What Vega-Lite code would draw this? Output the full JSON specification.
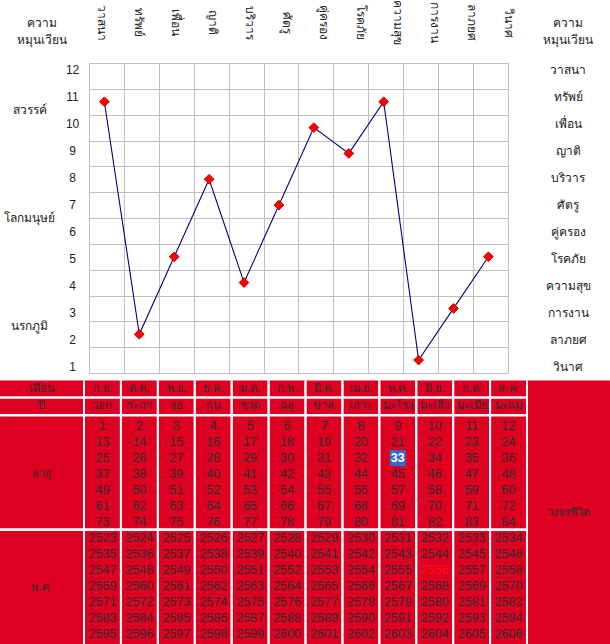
{
  "$schema": "https://vega.github.io/schema/vega-lite/v6.json",
  "width": 419,
  "height": 310,
  "autosize": {"type": "none"},
  "padding": {"left": 89, "top": 63, "right": 102, "bottom": 271},
  "background": "white",
  "config": {"view": {"stroke": null}, "font": "Tahoma, DejaVu Sans, sans-serif", "text": {"font": "Tahoma, Liberation Sans, DejaVu Sans, sans-serif"}},
  "datasets": {
    "cats": [
      {"i": 1, "name": "วาสนา", "k": 12, "v": 11},
      {"i": 2, "name": "ทรัพย์", "k": 11, "v": 2},
      {"i": 3, "name": "เพื่อน", "k": 10, "v": 5},
      {"i": 4, "name": "ญาติ", "k": 9, "v": 8},
      {"i": 5, "name": "บริวาร", "k": 8, "v": 4},
      {"i": 6, "name": "ศัตรู", "k": 7, "v": 7},
      {"i": 7, "name": "คู่ครอง", "k": 6, "v": 10},
      {"i": 8, "name": "โรคภัย", "k": 5, "v": 9},
      {"i": 9, "name": "ความสุข", "k": 4, "v": 11},
      {"i": 10, "name": "การงาน", "k": 3, "v": 1},
      {"i": 11, "name": "ลาภยศ", "k": 2, "v": 3},
      {"i": 12, "name": "วินาศ", "k": 1, "v": 5}
    ],
    "realms": [
      {"name": "สวรรค์", "k": 10.5},
      {"name": "โลกมนุษย์", "k": 6.5},
      {"name": "นรกภูมิ", "k": 2.5}
    ],
    "months": [
      {"c": 1, "m": "ก.ย.", "a": "วอก"},
      {"c": 2, "m": "ต.ค.", "a": "ระกา"},
      {"c": 3, "m": "พ.ย.", "a": "จอ"},
      {"c": 4, "m": "ธ.ค.", "a": "กุน"},
      {"c": 5, "m": "ม.ค.", "a": "ชวด"},
      {"c": 6, "m": "ก.พ.", "a": "ฉลู"},
      {"c": 7, "m": "มี.ค.", "a": "ขาล"},
      {"c": 8, "m": "เม.ย.", "a": "เถาะ"},
      {"c": 9, "m": "พ.ค.", "a": "มะโรง"},
      {"c": 10, "m": "มิ.ย.", "a": "มะเส็ง"},
      {"c": 11, "m": "ก.ค.", "a": "มะเมีย"},
      {"c": 12, "m": "ส.ค.", "a": "มะแม"}
    ],
    "cells": [
      {"c":1,"r":1,"t":1},{"c":2,"r":1,"t":2},{"c":3,"r":1,"t":3},{"c":4,"r":1,"t":4},{"c":5,"r":1,"t":5},{"c":6,"r":1,"t":6},{"c":7,"r":1,"t":7},{"c":8,"r":1,"t":8},{"c":9,"r":1,"t":9},{"c":10,"r":1,"t":10},{"c":11,"r":1,"t":11},{"c":12,"r":1,"t":12},
      {"c":1,"r":2,"t":13},{"c":2,"r":2,"t":14},{"c":3,"r":2,"t":15},{"c":4,"r":2,"t":16},{"c":5,"r":2,"t":17},{"c":6,"r":2,"t":18},{"c":7,"r":2,"t":19},{"c":8,"r":2,"t":20},{"c":9,"r":2,"t":21},{"c":10,"r":2,"t":22},{"c":11,"r":2,"t":23},{"c":12,"r":2,"t":24},
      {"c":1,"r":3,"t":25},{"c":2,"r":3,"t":26},{"c":3,"r":3,"t":27},{"c":4,"r":3,"t":28},{"c":5,"r":3,"t":29},{"c":6,"r":3,"t":30},{"c":7,"r":3,"t":31},{"c":8,"r":3,"t":32},{"c":9,"r":3,"t":33},{"c":10,"r":3,"t":34},{"c":11,"r":3,"t":35},{"c":12,"r":3,"t":36},
      {"c":1,"r":4,"t":37},{"c":2,"r":4,"t":38},{"c":3,"r":4,"t":39},{"c":4,"r":4,"t":40},{"c":5,"r":4,"t":41},{"c":6,"r":4,"t":42},{"c":7,"r":4,"t":43},{"c":8,"r":4,"t":44},{"c":9,"r":4,"t":45},{"c":10,"r":4,"t":46},{"c":11,"r":4,"t":47},{"c":12,"r":4,"t":48},
      {"c":1,"r":5,"t":49},{"c":2,"r":5,"t":50},{"c":3,"r":5,"t":51},{"c":4,"r":5,"t":52},{"c":5,"r":5,"t":53},{"c":6,"r":5,"t":54},{"c":7,"r":5,"t":55},{"c":8,"r":5,"t":56},{"c":9,"r":5,"t":57},{"c":10,"r":5,"t":58},{"c":11,"r":5,"t":59},{"c":12,"r":5,"t":60},
      {"c":1,"r":6,"t":61},{"c":2,"r":6,"t":62},{"c":3,"r":6,"t":63},{"c":4,"r":6,"t":64},{"c":5,"r":6,"t":65},{"c":6,"r":6,"t":66},{"c":7,"r":6,"t":67},{"c":8,"r":6,"t":68},{"c":9,"r":6,"t":69},{"c":10,"r":6,"t":70},{"c":11,"r":6,"t":71},{"c":12,"r":6,"t":72},
      {"c":1,"r":7,"t":73},{"c":2,"r":7,"t":74},{"c":3,"r":7,"t":75},{"c":4,"r":7,"t":76},{"c":5,"r":7,"t":77},{"c":6,"r":7,"t":78},{"c":7,"r":7,"t":79},{"c":8,"r":7,"t":80},{"c":9,"r":7,"t":81},{"c":10,"r":7,"t":82},{"c":11,"r":7,"t":83},{"c":12,"r":7,"t":84},
      {"c":1,"r":8,"t":2523},{"c":2,"r":8,"t":2524},{"c":3,"r":8,"t":2525},{"c":4,"r":8,"t":2526},{"c":5,"r":8,"t":2527},{"c":6,"r":8,"t":2528},{"c":7,"r":8,"t":2529},{"c":8,"r":8,"t":2530},{"c":9,"r":8,"t":2531},{"c":10,"r":8,"t":2532},{"c":11,"r":8,"t":2533},{"c":12,"r":8,"t":2534},
      {"c":1,"r":9,"t":2535},{"c":2,"r":9,"t":2536},{"c":3,"r":9,"t":2537},{"c":4,"r":9,"t":2538},{"c":5,"r":9,"t":2539},{"c":6,"r":9,"t":2540},{"c":7,"r":9,"t":2541},{"c":8,"r":9,"t":2542},{"c":9,"r":9,"t":2543},{"c":10,"r":9,"t":2544},{"c":11,"r":9,"t":2545},{"c":12,"r":9,"t":2546},
      {"c":1,"r":10,"t":2547},{"c":2,"r":10,"t":2548},{"c":3,"r":10,"t":2549},{"c":4,"r":10,"t":2550},{"c":5,"r":10,"t":2551},{"c":6,"r":10,"t":2552},{"c":7,"r":10,"t":2553},{"c":8,"r":10,"t":2554},{"c":9,"r":10,"t":2555},{"c":10,"r":10,"t":2556},{"c":11,"r":10,"t":2557},{"c":12,"r":10,"t":2558},
      {"c":1,"r":11,"t":2559},{"c":2,"r":11,"t":2560},{"c":3,"r":11,"t":2561},{"c":4,"r":11,"t":2562},{"c":5,"r":11,"t":2563},{"c":6,"r":11,"t":2564},{"c":7,"r":11,"t":2565},{"c":8,"r":11,"t":2566},{"c":9,"r":11,"t":2567},{"c":10,"r":11,"t":2568},{"c":11,"r":11,"t":2569},{"c":12,"r":11,"t":2570},
      {"c":1,"r":12,"t":2571},{"c":2,"r":12,"t":2572},{"c":3,"r":12,"t":2573},{"c":4,"r":12,"t":2574},{"c":5,"r":12,"t":2575},{"c":6,"r":12,"t":2576},{"c":7,"r":12,"t":2577},{"c":8,"r":12,"t":2578},{"c":9,"r":12,"t":2579},{"c":10,"r":12,"t":2580},{"c":11,"r":12,"t":2581},{"c":12,"r":12,"t":2582},
      {"c":1,"r":13,"t":2583},{"c":2,"r":13,"t":2584},{"c":3,"r":13,"t":2585},{"c":4,"r":13,"t":2586},{"c":5,"r":13,"t":2587},{"c":6,"r":13,"t":2588},{"c":7,"r":13,"t":2589},{"c":8,"r":13,"t":2590},{"c":9,"r":13,"t":2591},{"c":10,"r":13,"t":2592},{"c":11,"r":13,"t":2593},{"c":12,"r":13,"t":2594},
      {"c":1,"r":14,"t":2595},{"c":2,"r":14,"t":2596},{"c":3,"r":14,"t":2597},{"c":4,"r":14,"t":2598},{"c":5,"r":14,"t":2599},{"c":6,"r":14,"t":2600},{"c":7,"r":14,"t":2601},{"c":8,"r":14,"t":2602},{"c":9,"r":14,"t":2603},{"c":10,"r":14,"t":2604},{"c":11,"r":14,"t":2605},{"c":12,"r":14,"t":2606}
    ]
  },
  "layer": [
    {
      "data": {"name": "cats"},
      "encoding": {
        "x": {"field": "i", "type": "ordinal", "bandPosition": 0.44,
          "scale": {"type": "band", "paddingInner": 0, "paddingOuter": 0},
          "axis": {"grid": true, "tickBand": "extent", "labels": false, "ticks": false, "domain": false, "title": null, "gridColor": "#BFBFBF", "gridOpacity": 1, "gridWidth": 1}},
        "y": {"field": "v", "type": "quantitative",
          "scale": {"domain": [0.5, 12.5], "nice": false, "zero": false},
          "axis": {"values": [0.5, 1.5, 2.5, 3.5, 4.5, 5.5, 6.5, 7.5, 8.5, 9.5, 10.5, 11.5, 12.5], "grid": true, "labels": false, "ticks": false, "domain": false, "title": null, "gridColor": "#BFBFBF", "gridOpacity": 1, "gridWidth": 1}}
      },
      "layer": [
        {"mark": {"type": "line", "color": "#000080", "strokeWidth": 1.1}},
        {"mark": {"type": "point", "shape": "diamond", "filled": true, "size": 95, "fill": "#FF0000", "stroke": "#C00000", "strokeWidth": 1, "opacity": 1}}
      ]
    },
    {
      "layer": [
        {
          "data": {"name": "cats"},
          "mark": {"type": "text", "angle": 90, "align": "center", "baseline": "middle", "fontSize": 12, "color": "#222222"},
          "encoding": {
            "x": {"field": "i", "type": "quantitative", "scale": {"domain": [0.5, 12.5], "range": [-5, 438], "nice": false, "zero": false}, "axis": null},
            "y": {"datum": 13.76, "type": "quantitative", "scale": {"domain": [1, 12], "range": [303.7, 7], "nice": false, "zero": false}, "axis": null},
            "text": {"field": "name"}
          }
        },
        {
          "data": {"name": "cats"},
          "mark": {"type": "text", "align": "center", "baseline": "middle", "fontSize": 12, "color": "#222222"},
          "encoding": {
            "x": {"datum": 0.19, "type": "quantitative"},
            "y": {"field": "k", "type": "quantitative"},
            "text": {"field": "k"}
          }
        },
        {
          "data": {"name": "cats"},
          "mark": {"type": "text", "align": "center", "baseline": "middle", "fontSize": 12, "color": "#222222"},
          "encoding": {
            "x": {"datum": 13.62, "type": "quantitative"},
            "y": {"field": "k", "type": "quantitative"},
            "text": {"field": "name"}
          }
        },
        {
          "data": {"name": "realms"},
          "mark": {"type": "text", "align": "center", "baseline": "middle", "fontSize": 12, "color": "#222222"},
          "encoding": {
            "x": {"datum": -0.97, "type": "quantitative"},
            "y": {"field": "k", "type": "quantitative"},
            "text": {"field": "name"}
          }
        },
        {
          "data": {"values": [{}]},
          "mark": {"type": "text", "align": "center", "baseline": "middle", "fontSize": 12, "lineHeight": 17, "color": "#222222"},
          "encoding": {
            "x": {"datum": -0.65, "type": "quantitative"},
            "y": {"datum": 13.76, "type": "quantitative"},
            "text": {"value": ["ความ", "หมุนเวียน"]}
          }
        },
        {
          "data": {"values": [{}]},
          "mark": {"type": "text", "align": "center", "baseline": "middle", "fontSize": 12, "lineHeight": 17, "color": "#222222"},
          "encoding": {
            "x": {"datum": 13.62, "type": "quantitative"},
            "y": {"datum": 13.76, "type": "quantitative"},
            "text": {"value": ["ความ", "หมุนเวียน"]}
          }
        }
      ]
    },
    {
      "layer": [
        {
          "data": {"values": [{}]},
          "mark": {"type": "rect", "color": "#DE0021"},
          "encoding": {
            "x": {"datum": -1.775, "type": "quantitative", "scale": {"domain": [0.5, 12.5], "range": [-5, 438], "nice": false, "zero": false}, "axis": null},
            "x2": {"datum": 14.748},
            "y": {"datum": -1.844, "type": "quantitative", "scale": {"domain": [0, 14], "range": [347, 571], "nice": false, "zero": false}, "axis": null},
            "y2": {"datum": 14.625}
          }
        },
        {
          "data": {"name": "months"},
          "mark": {"type": "rule", "color": "white", "strokeWidth": 2, "xOffset": -18.46},
          "encoding": {
            "x": {"field": "c", "type": "quantitative"},
            "y": {"datum": -1.844, "type": "quantitative"},
            "y2": {"datum": 14.625}
          }
        },
        {
          "data": {"name": "months"},
          "mark": {"type": "rule", "color": "white", "strokeWidth": 2, "xOffset": 18.46},
          "encoding": {
            "x": {"field": "c", "type": "quantitative"},
            "y": {"datum": -1.844, "type": "quantitative"},
            "y2": {"datum": 14.625}
          }
        },
        {
          "data": {"values": [{}]},
          "mark": {"type": "rule", "color": "white", "strokeWidth": 2.4},
          "encoding": {
            "x": {"datum": -1.775, "type": "quantitative"},
            "x2": {"datum": 12.5},
            "y": {"datum": -0.78, "type": "quantitative"}
          }
        },
        {
          "data": {"values": [{}]},
          "mark": {"type": "rule", "color": "white", "strokeWidth": 2.4},
          "encoding": {
            "x": {"datum": -1.775, "type": "quantitative"},
            "x2": {"datum": 12.5},
            "y": {"datum": 0.325, "type": "quantitative"}
          }
        },
        {
          "data": {"values": [{}]},
          "mark": {"type": "rule", "color": "white", "strokeWidth": 2.8},
          "encoding": {
            "x": {"datum": -1.775, "type": "quantitative"},
            "x2": {"datum": 12.5},
            "y": {"datum": 7.48, "type": "quantitative"}
          }
        },
        {
          "data": {"name": "months"},
          "mark": {"type": "text", "align": "center", "baseline": "middle", "fontSize": 11, "color": "#2E2E2E"},
          "encoding": {
            "x": {"field": "c", "type": "quantitative"},
            "y": {"datum": -1.34, "type": "quantitative"},
            "text": {"field": "m"}
          }
        },
        {
          "data": {"name": "months"},
          "mark": {"type": "text", "align": "center", "baseline": "middle", "fontSize": 11, "color": "#2E2E2E"},
          "encoding": {
            "x": {"field": "c", "type": "quantitative"},
            "y": {"datum": -0.25, "type": "quantitative"},
            "text": {"field": "a"}
          }
        },
        {
          "data": {"values": [{}]},
          "mark": {"type": "text", "align": "center", "baseline": "middle", "fontSize": 11, "color": "#2E2E2E"},
          "encoding": {"x": {"datum": -0.65, "type": "quantitative"}, "y": {"datum": -1.34, "type": "quantitative"}, "text": {"value": "เดือน"}}
        },
        {
          "data": {"values": [{}]},
          "mark": {"type": "text", "align": "center", "baseline": "middle", "fontSize": 11, "color": "#2E2E2E"},
          "encoding": {"x": {"datum": -0.65, "type": "quantitative"}, "y": {"datum": -0.25, "type": "quantitative"}, "text": {"value": "ปี"}}
        },
        {
          "data": {"values": [{}]},
          "mark": {"type": "text", "align": "center", "baseline": "middle", "fontSize": 11, "color": "#2E2E2E"},
          "encoding": {"x": {"datum": -0.65, "type": "quantitative"}, "y": {"datum": 4, "type": "quantitative"}, "text": {"value": "อายุ"}}
        },
        {
          "data": {"values": [{}]},
          "mark": {"type": "text", "align": "center", "baseline": "middle", "fontSize": 11, "color": "#2E2E2E"},
          "encoding": {"x": {"datum": -0.65, "type": "quantitative"}, "y": {"datum": 11.1, "type": "quantitative"}, "text": {"value": "พ.ศ."}}
        },
        {
          "data": {"values": [{}]},
          "mark": {"type": "text", "align": "center", "baseline": "middle", "fontSize": 11, "color": "#2E2E2E"},
          "encoding": {"x": {"datum": 13.62, "type": "quantitative"}, "y": {"datum": 6.44, "type": "quantitative"}, "text": {"value": "วงจรชีวิต"}}
        },
        {
          "data": {"name": "cells"},
          "transform": [{"filter": "datum.t == 33"}],
          "mark": {"type": "square", "size": 256, "color": "#2F6AD0", "opacity": 1},
          "encoding": {
            "x": {"field": "c", "type": "quantitative"},
            "y": {"field": "r", "type": "quantitative"}
          }
        },
        {
          "data": {"name": "cells"},
          "transform": [{"filter": "datum.t != 33"}],
          "mark": {"type": "text", "align": "center", "baseline": "middle", "fontSize": 12.5, "font": "Liberation Sans"},
          "encoding": {
            "x": {"field": "c", "type": "quantitative"},
            "y": {"field": "r", "type": "quantitative"},
            "text": {"field": "t"},
            "color": {"condition": {"test": "datum.t == 2556", "value": "#FF1010"}, "value": "#2E2E2E"}
          }
        },
        {
          "data": {"name": "cells"},
          "transform": [{"filter": "datum.t == 33"}],
          "mark": {"type": "text", "align": "center", "baseline": "middle", "fontSize": 12.5, "fontWeight": "bold", "font": "Liberation Sans", "color": "white"},
          "encoding": {
            "x": {"field": "c", "type": "quantitative"},
            "y": {"field": "r", "type": "quantitative"},
            "text": {"field": "t"}
          }
        }
      ]
    }
  ],
  "resolve": {"scale": {"x": "independent", "y": "independent"}}
}
